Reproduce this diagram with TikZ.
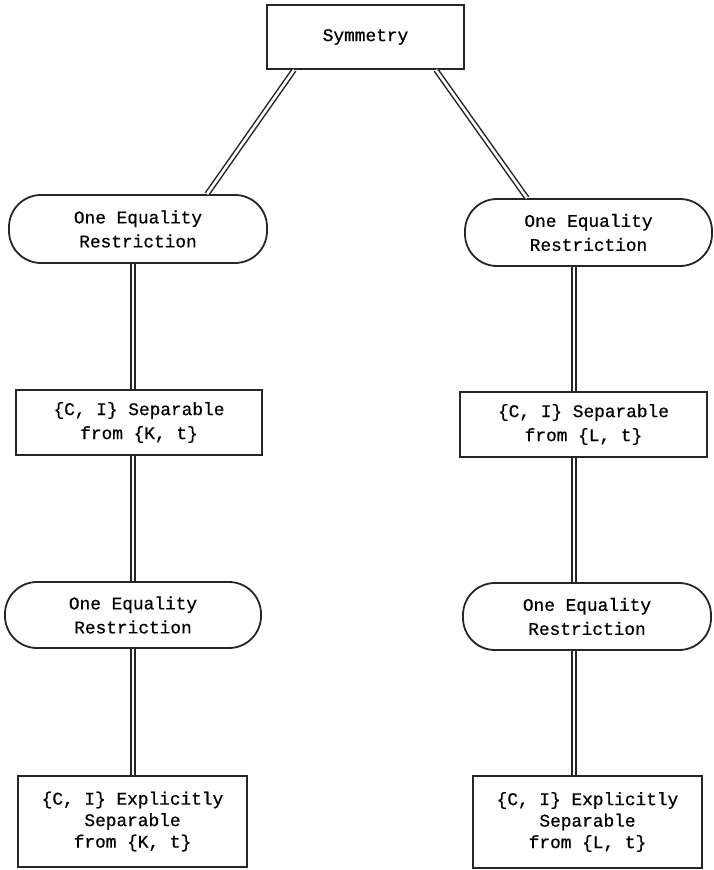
\documentclass[tikz,border=0pt]{standalone}
\usepackage{fontspec}
\setmainfont{Liberation Mono}[FakeBold=0.7]
\begin{document}
\begin{tikzpicture}[x=1pt,y=-1pt,
  every node/.style={font=\fontsize{17.8}{24}\selectfont, align=center, inner sep=0pt, line width=1.8pt, draw=black!85},
  sq/.style={rectangle},
  pill/.style={rectangle, rounded corners=32pt},
  dbl/.style={draw=black!85, line width=1.5pt, double=white, double distance=2.6pt}]
\useasboundingbox (0,0) rectangle (713,870);
\node[sq, minimum width=197pt, minimum height=64pt] (sym) at (365.5,37) {Symmetry};
\node[pill, minimum width=258pt, minimum height=68pt] (r1L) at (138,229) {One Equality\\Restriction};
\node[sq, minimum width=246pt, minimum height=65pt] (b1L) at (139,422.5) {\{C, I\} Separable\\from \{K, t\}};
\node[pill, minimum width=256pt, minimum height=66pt] (r2L) at (133,615) {One Equality\\Restriction};
\node[sq, minimum width=229pt, minimum height=91pt, font=\fontsize{17.8}{21.5}\selectfont] (b2L) at (132.5,821.5) {\{C, I\} Explicitly\\Separable\\from \{K, t\}};
\node[pill, minimum width=247pt, minimum height=67pt] (r1R) at (588.5,232.5) {One Equality\\Restriction};
\node[sq, minimum width=247pt, minimum height=65pt] (b1R) at (583.5,424.5) {\{C, I\} Separable\\from \{L, t\}};
\node[pill, minimum width=248pt, minimum height=67pt] (r2R) at (587,616.5) {One Equality\\Restriction};
\node[sq, minimum width=229pt, minimum height=92pt, font=\fontsize{17.8}{21.5}\selectfont] (b2R) at (587.5,822) {\{C, I\} Explicitly\\Separable\\from \{L, t\}};
\coordinate (L) at (133,0);
\coordinate (R) at (574,0);
\draw[dbl] ([xshift=28pt]sym.south west) -- ([xshift=69pt]r1L.north);
\draw[dbl] ([xshift=-29pt]sym.south east) -- ([xshift=-61.5pt]r1R.north);
\draw[dbl] (r1L.south -| L) -- (b1L.north -| L);
\draw[dbl] (b1L.south -| L) -- (r2L.north -| L);
\draw[dbl] (r2L.south -| L) -- (b2L.north -| L);
\draw[dbl] (r1R.south -| R) -- (b1R.north -| R);
\draw[dbl] (b1R.south -| R) -- (r2R.north -| R);
\draw[dbl] (r2R.south -| R) -- (b2R.north -| R);
\end{tikzpicture}
\end{document}
